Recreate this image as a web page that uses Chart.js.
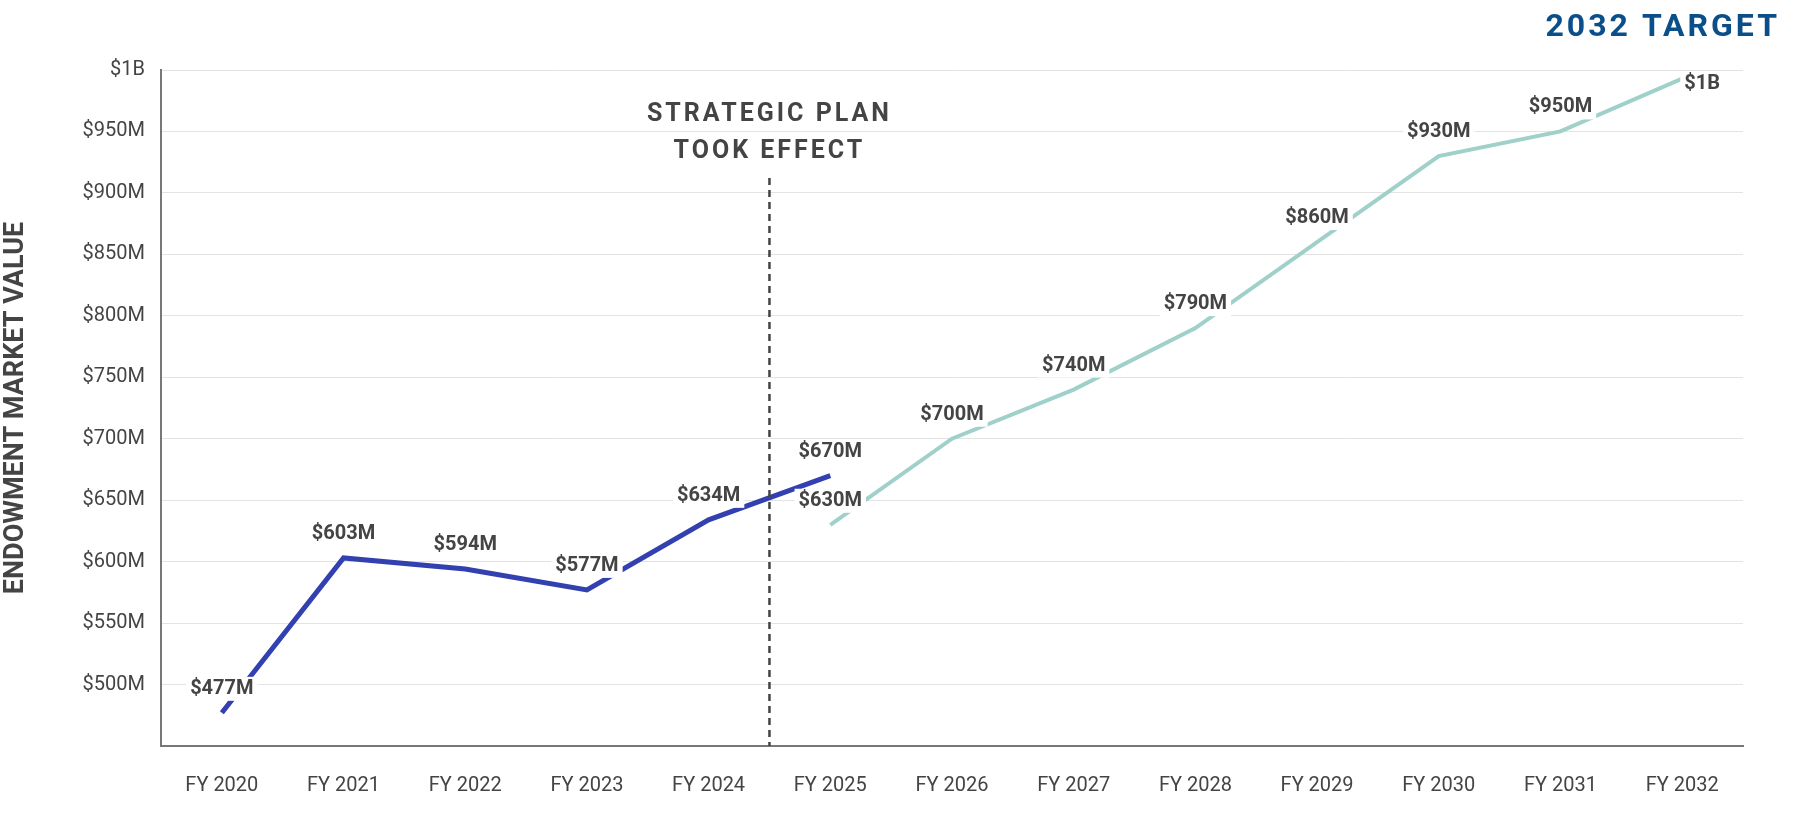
<!DOCTYPE html>
<html><head><meta charset="utf-8">
<script src="https://cdn.jsdelivr.net/npm/chart.js@4"></script>
<style>html,body{margin:0;padding:0;background:#fff}#w{width:1796px;height:817px;position:relative}</style>
</head><body><div id="w"><canvas id="c"></canvas></div>
<script>
const categories = ['FY 2020','FY 2021','FY 2022','FY 2023','FY 2024','FY 2025','FY 2026','FY 2027','FY 2028','FY 2029','FY 2030','FY 2031','FY 2032'];
const actualValues = [477,603,594,577,634,670,null,null,null,null,null,null,null];
const projectedValues = [null,null,null,null,null,630,700,740,790,860,930,950,993];
const actualLabels = ['$477M','$603M','$594M','$577M','$634M','$670M'];
const projectedLabels = [null,null,null,null,null,'$630M','$700M','$740M','$790M','$860M','$930M','$950M','$1B'];
const yTickLabels = {500:'$500M',550:'$550M',600:'$600M',650:'$650M',700:'$700M',750:'$750M',800:'$800M',850:'$850M',900:'$900M',950:'$950M',1000:'$1B'};

const F = 'Roboto, sans-serif';
const overlay = {
  id:'overlay',
  afterDatasetsDraw(chart){
    const ctx = chart.ctx, x = chart.scales.x, y = chart.scales.y, a = chart.chartArea;
    // dashed line
    const dx = (x.getPixelForValue(4)+x.getPixelForValue(5))/2;
    ctx.save();
    ctx.strokeStyle='#444'; ctx.lineWidth=2.5; ctx.setLineDash([7,5]);
    ctx.beginPath(); ctx.moveTo(dx,178); ctx.lineTo(dx,a.bottom); ctx.stroke();
    ctx.setLineDash([]);
    ctx.fillStyle='#444'; ctx.font='bold 25px '+F; ctx.textAlign='center'; ctx.textBaseline='middle';
    ctx.letterSpacing='3px';
    ctx.fillText('STRATEGIC PLAN', dx, 115);
    ctx.fillText('TOOK EFFECT', dx, 152);
    ctx.fillStyle='#0b4f8a'; ctx.font='bold 32px '+F; ctx.textAlign='right';
    ctx.fillText('2032 TARGET', 1780, 28);
    ctx.letterSpacing='0px';
    // point labels
    ctx.font='bold 20px '+F;
    const draw=(vals,labs)=>{
      vals.forEach((v,i)=>{
        if(v==null||!labs[i]) return;
        const px=x.getPixelForValue(i); let py=y.getPixelForValue(v)-24;
        if(labs[i]==='$1B') py=y.getPixelForValue(v)+5;
        const lx = labs[i]==='$1B'? px+20 : px;
        const w=ctx.measureText(labs[i]).width+8;
        ctx.fillStyle='#fff'; ctx.fillRect(lx-w/2,py-12,w,24);
        ctx.fillStyle='#444'; ctx.textAlign='center'; ctx.fillText(labs[i],lx,py);
      });
    };
    draw(actualValues,actualLabels); draw(projectedValues,projectedLabels);
    ctx.restore();
  }
};

new Chart(document.getElementById('c'),{
  type:'line',
  data:{labels:categories,datasets:[
    {data:actualValues,borderColor:'#3340b0',borderWidth:5,pointRadius:0,tension:0,spanGaps:false},
    {data:projectedValues,borderColor:'#9fd0c9',borderWidth:4,pointRadius:0,tension:0}
  ]},
  options:{
    responsive:true,maintainAspectRatio:false,animation:false,
    layout:{padding:{top:70,right:53,left:0,bottom:0}},
    plugins:{legend:{display:false},tooltip:{enabled:false}},
    scales:{
      x:{offset:true,grid:{display:false,drawTicks:false},border:{color:'#777',width:2},
        ticks:{color:'#444',font:{family:F,size:20},padding:28},
        afterFit(s){s.height=71;}},
      y:{min:450,max:1000,grid:{color:'#e3e3e3',drawTicks:false},border:{color:'#777',width:2},
        afterBuildTicks(s){s.ticks=Object.keys(yTickLabels).map(v=>({value:+v}));s.ticks.unshift({value:450});},
        ticks:{color:'#444',font:{family:F,size:20},padding:16,callback:v=>yTickLabels[v]||''},
        title:{display:true,text:'ENDOWMENT MARKET VALUE',color:'#444',font:{family:F,size:27,weight:'bold'},padding:{top:0,bottom:12}},
        afterFit(s){s.width=161;}}
    }
  },
  plugins:[overlay]
});
</script></body></html>
